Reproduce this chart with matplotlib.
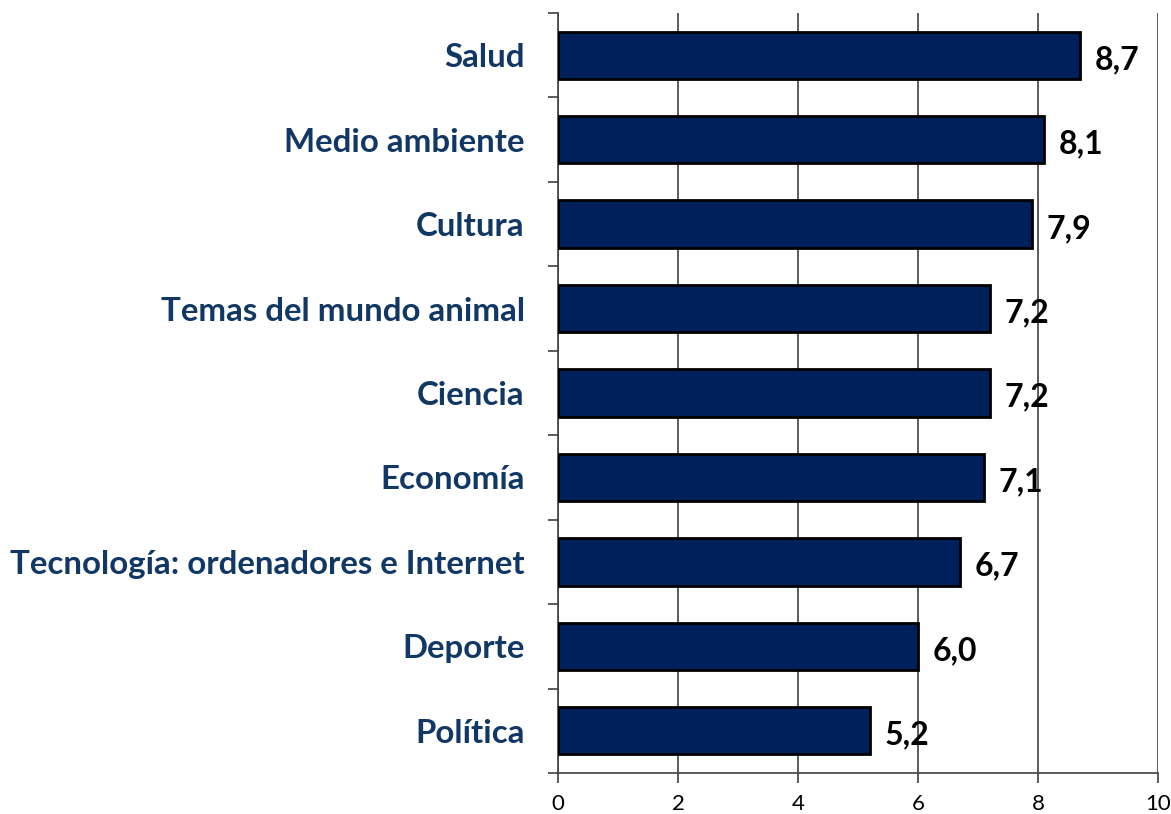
import matplotlib
matplotlib.use('Agg')
import matplotlib.pyplot as plt
import numpy as np

categories = ['Salud', 'Medio ambiente', 'Cultura', 'Temas del mundo animal', 'Ciencia',
              'Economía', 'Tecnología: ordenadores e Internet', 'Deporte', 'Política']
values = [8.7, 8.1, 7.9, 7.2, 7.2, 7.1, 6.7, 6.0, 5.2]
xticks = [0, 2, 4, 6, 8, 10]

fig = plt.figure(figsize=(11.71, 8.14), dpi=100)
ax = fig.add_axes([558/1171, 1 - 773/814, 600/1171, 760/814])

y = np.arange(len(categories))
ax.barh(y, values, height=0.56, color='#00205C', edgecolor='black', linewidth=2, zorder=3)

# value labels with decimal comma
for yi, v in zip(y, values):
    ax.text(v + 0.25, yi + 0.05, f'{v:.1f}'.replace('.', ','), va='center', ha='left',
            fontsize=23, fontweight='bold', family='Lato', color='black')

ax.set_xlim(0, 10)
ax.set_ylim(len(categories) - 0.5, -0.5)
ax.set_xticks(xticks)
ax.set_xticklabels([str(t) for t in xticks], fontsize=16, family='Lato')
ax.set_yticks(y)
ax.set_yticklabels(categories, fontsize=23.8, fontweight='bold', family='Lato', color='#113764')
ax.tick_params(axis='y', length=0, pad=24)
ax.set_yticks(np.arange(-0.5, len(categories)), minor=True)
ax.tick_params(axis='y', which='minor', length=7, width=1.2, color='#404040')
ax.tick_params(axis='x', length=7, width=1.2, color='#404040', pad=8)

ax.grid(axis='x', color='#404040', linewidth=1.2, zorder=0)
for s in ['top', 'right']:
    ax.spines[s].set_visible(False)
ax.spines['left'].set_color('#404040')
ax.spines['bottom'].set_color('#404040')
ax.spines['left'].set_linewidth(1.2)
ax.spines['bottom'].set_linewidth(1.2)

fig.savefig('out.png', dpi=100)
